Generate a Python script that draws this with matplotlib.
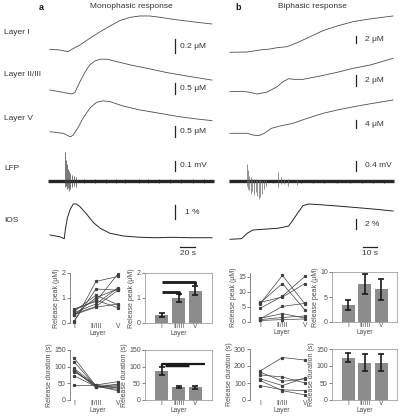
import matplotlib
matplotlib.use("Agg")
import matplotlib.pyplot as plt

plt.rcParams["font.family"] = ["Liberation Sans", "DejaVu Sans"]

# ---- traces (time in s, value in unit of the scale bar) ----
# monophasic (a)
a_I_t = [0, 13, 24, 29, 40, 53, 67, 80, 93, 107, 120, 133, 147, 164, 182, 200, 216]
a_I_v = [0.01, 0, -0.025, 0.01, 0.075, 0.175, 0.275, 0.36, 0.44, 0.49, 0.51, 0.51, 0.49, 0.46, 0.435, 0.41, 0.39]
a_II_t = [0, 13, 29, 33, 40, 47, 53, 60, 67, 76, 89, 107, 129, 156, 182, 216]
a_II_v = [0, -0.08, -0.18, -0.12, 0.38, 0.83, 1.14, 1.32, 1.4, 1.4, 1.29, 1.14, 0.99, 0.79, 0.64, 0.45]
a_V_t = [0, 18, 27, 31, 38, 44, 53, 62, 71, 80, 98, 120, 147, 173, 200, 216]
a_V_v = [0, -0.08, -0.24, -0.16, 0.23, 0.63, 1.10, 1.38, 1.45, 1.41, 1.20, 1.02, 0.86, 0.70, 0.58, 0.52]
a_ios_t = [0, 13, 19, 20.4, 23, 27, 31, 35, 40, 49, 58, 67, 80, 98, 120, 142, 164, 187, 216]
a_ios_v = [0, -0.12, -0.26, 0.35, 1.17, 1.8, 2.17, 2.17, 1.98, 1.45, 0.86, 0.47, 0.12, -0.07, -0.16, -0.19, -0.16, -0.19, -0.19]
a_spk_t = [20, 21.3, 22.7, 24, 25.3, 26.7, 29, 32, 35]
a_spk_up = [0.30, 0.22, 0.18, 0.12, 0.10, 0.08, 0.06, 0.05, 0.04]
a_spk_dn = [-0.06, -0.05, -0.08, -0.07, -0.10, -0.08, -0.06, -0.05, -0.06]
a_tick_t = [45, 60, 75, 88, 100, 118, 130, 145, 160, 175, 190, 205]

# biphasic (b)
b_I_t = [0, 12, 21, 28, 33, 40, 47, 56, 65, 75, 86, 98, 114]
b_I_v = [0, 0.08, 0.63, 0.9, 1.26, 1.53, 2.62, 4.25, 5.9, 7.17, 8.35, 9.1, 9.9]
b_II_t = [0, 9, 14, 19, 26, 33, 37, 41, 45, 51, 63, 75, 86, 98, 114]
b_II_v = [0, 0.08, -0.12, -0.45, -0.06, 0.97, 1.93, 2.51, 2.39, 2.39, 3.03, 3.75, 4.52, 5.16, 6.46]
b_V_t = [0, 12, 16, 20, 24, 29, 35, 44, 54, 65, 77, 89, 100, 114]
b_V_v = [0, 0, -0.82, -1.15, 0, 2.4, 3.5, 4.8, 7.2, 9.6, 11.5, 13.1, 14.4, 16.0]
b_ios_t = [0, 8, 12, 16, 23, 33, 37, 41, 44, 48, 51, 55, 63, 75, 86, 100, 114]
b_ios_v = [0, 0.12, 1.2, 1.86, 2.0, 2.2, 2.4, 2.66, 3.86, 5.52, 6.72, 7.06, 6.92, 6.66, 6.4, 6.06, 5.66]
b_spk_t = [11.7, 12.6, 13.5, 14.5, 15.5, 16.8, 18, 19.2, 20.3, 21.3, 22.4, 23.8, 25, 33.8, 35.5, 38, 40.6, 46.9]
b_spk_up = [0.70, 0.45, 0.2, 0.15, 0.1, 0.08, 0.1, 0.06, 0.05, 0.05, 0.05, 0.04, 0.03, 0.37, 0.15, 0.1, 0.08, 0.06]
b_spk_dn = [-0.2, -0.3, -0.35, -0.5, -0.4, -0.55, -0.45, -0.6, -0.72, -0.65, -0.5, -0.3, -0.2, -0.25, -0.12, -0.1, -0.2, -0.15]
b_tick_t = [30, 50, 58, 66, 75, 84, 92, 100, 108]

# ---- summary data ----
layers = ["I", "II/III", "V"]
peak_a_I = [0.02, 0.30, 0.55, 0.45, 0.35, 0.50, 0.40, 0.32, 0.05]
peak_a_II = [1.65, 1.00, 0.85, 1.10, 0.65, 0.90, 0.75, 0.62, 1.35]
peak_a_V = [1.85, 1.35, 1.95, 0.72, 1.30, 0.60, 1.40, 0.75, 1.30]
dur_a_I = [127, 115, 95, 91, 88, 85, 73, 44]
dur_a_II = [42, 40, 44, 38, 41, 45, 40, 43]
dur_a_V = [28, 32, 45, 48, 38, 55, 42, 36]
peak_b_I = [6.0, 6.3, 6.5, 4.5, 1.0, 1.2, 0.8, 0.5]
peak_b_II = [15.5, 12.8, 8.3, 8.6, 5.2, 2.8, 1.5, 0.8]
peak_b_V = [6.0, 4.0, 12.8, 15.2, 6.2, 1.3, 2.0, 1.0]
dur_b_I = [170, 165, 148, 125, 115, 85]
dur_b_II = [250, 110, 135, 85, 55, 60]
dur_b_V = [235, 125, 100, 130, 30, 55]

peak_a_mean = [0.30, 0.98, 1.28]
peak_a_err = [0.07, 0.15, 0.18]
dur_a_mean = [88, 40, 38]
dur_a_err = [12, 3, 5]
peak_b_mean = [3.5, 7.6, 6.6]
peak_b_err = [1.0, 2.0, 2.1]
dur_b_mean = [125, 110, 110]
dur_b_err = [14, 26, 25]

W, H = 399, 416
TXT = "0.2"
fig = plt.figure(figsize=(W / 100, H / 100), dpi=100)


def box(x0, y0, x1, y1):
    return [x0 / W, 1 - y1 / H, (x1 - x0) / W, (y1 - y0) / H]


def trace_ax(panel, ytop, ybot, base, ppu):
    if panel == "a":
        x0, x1, org, pps = 46, 216, 50, 0.75
    else:
        x0, x1, org, pps = 226, 397, 230, 1.43
    ax = fig.add_axes(box(x0, ytop, x1, ybot))
    ax.set_xlim((x0 - org) / pps, (x1 - org) / pps)
    ax.set_ylim((base - ybot) / ppu, (base - ytop) / ppu)
    ax.axis("off")
    ax.patch.set_alpha(0)
    ax._conv = (org, pps, base, ppu)
    return ax


def scale_bar(ax, xpx, ybot_px, size, label, tx_px):
    org, pps, base, ppu = ax._conv
    t = (xpx - org) / pps
    y0 = (base - ybot_px) / ppu
    ax.plot([t, t], [y0, y0 + size], color="0.15", lw=0.9, clip_on=False)
    ax.text((tx_px - org) / pps, y0 + size / 2, label, fontsize=6, color=TXT,
            va="center", ha="left")


def time_bar(ax, xpx, ypx, size, label):
    org, pps, base, ppu = ax._conv
    t = (xpx - org) / pps
    y = (base - ypx) / ppu
    ax.plot([t, t + size], [y, y], color="0.15", lw=0.9, clip_on=False)
    ax.text(t + size / 2, y - 3 / ppu, label, fontsize=6, color=TXT,
            ha="center", va="top")


tr_kw = dict(color="0.3", lw=0.6)

# ---- panel a traces ----
ax = trace_ax("a", 8, 58, 50, 66.7)
ax.plot(a_I_t, a_I_v, **tr_kw)
scale_bar(ax, 175, 52.7, 0.2, "0.2 μM", 180)
ax = trace_ax("a", 55, 100, 90, 22)
ax.plot(a_II_t, a_II_v, **tr_kw)
scale_bar(ax, 175, 94.3, 0.5, "0.5 μM", 180)
ax = trace_ax("a", 97, 142, 131.7, 21.3)
ax.plot(a_V_t, a_V_v, **tr_kw)
scale_bar(ax, 175, 136.7, 0.5, "0.5 μM", 180)
ax = trace_ax("a", 145, 205, 181, 97)
ax.plot([a_I_t[0] - 3, a_I_t[-1] + 2], [0, 0], color="0.15", lw=2.4, solid_capstyle="butt")
ax.vlines(a_spk_t, a_spk_dn, a_spk_up, color="0.25", lw=0.5)
ax.vlines(a_tick_t, -0.025, 0.025, color="0.15", lw=0.5)
scale_bar(ax, 175, 170.7, 0.1, "0.1 mV", 180)
ax = trace_ax("a", 198, 258, 235, 14.3)
ax.plot(a_ios_t, a_ios_v, color="0.15", lw=0.7)
scale_bar(ax, 175, 219.3, 1, "1 %", 185)
time_bar(ax, 180, 246.7, 20, "20 s")

# ---- panel b traces ----
ax = trace_ax("b", 8, 58, 52.3, 3.67)
ax.plot(b_I_t, b_I_v, **tr_kw)
scale_bar(ax, 356, 43.3, 2, "2 μM", 365)
ax = trace_ax("b", 55, 100, 91.7, 5.17)
ax.plot(b_II_t, b_II_v, **tr_kw)
scale_bar(ax, 356, 85.7, 2, "2 μM", 365)
ax = trace_ax("b", 97, 142, 133.3, 2.08)
ax.plot(b_V_t, b_V_v, **tr_kw)
scale_bar(ax, 356, 128.3, 4, "4 μM", 365)
ax = trace_ax("b", 145, 205, 181, 25)
ax.plot([b_I_t[0] - 0.5, b_I_t[-1] + 0.5], [0, 0], color="0.15", lw=2.4, solid_capstyle="butt")
ax.vlines(b_spk_t, b_spk_dn, b_spk_up, color="0.4", lw=0.5)
ax.vlines(b_tick_t, -0.06, 0.06, color="0.15", lw=0.5)
scale_bar(ax, 356, 170.7, 0.4, "0.4 mV", 365)
ax = trace_ax("b", 198, 258, 239.3, 5)
ax.plot(b_ios_t, b_ios_v, color="0.15", lw=0.7)
scale_bar(ax, 356, 229.3, 2, "2 %", 365)
time_bar(ax, 363, 246.7, 10, "10 s")

# ---- labels ----
for txt, y in [("Layer I", 33), ("Layer II/III", 75), ("Layer V", 118), ("LFP", 169), ("IOS", 220)]:
    fig.text(4 / W, 1 - y / H, txt, fontsize=6, color=TXT, va="center", ha="left")
fig.text(39 / W, 1 - 7 / H, "a", fontsize=6.5, fontweight="bold", color="0.1", va="center")
fig.text(131 / W, 1 - 6 / H, "Monophasic response", fontsize=6, color=TXT, va="center", ha="center")
fig.text(235 / W, 1 - 7 / H, "b", fontsize=6.5, fontweight="bold", color="0.1", va="center")
fig.text(312 / W, 1 - 6 / H, "Biphasic response", fontsize=6, color=TXT, va="center", ha="center")


# ---- summary panels ----
def style(ax, ylim, yticks, ylabel, frame):
    ax.set_ylim(*ylim)
    ax.set_yticks(yticks)
    ax.set_xticks([0, 1, 2])
    ax.set_xticklabels(layers)
    ax.tick_params(axis="y", length=2, width=0.5, pad=1, labelsize=5, colors="0.3")
    ax.tick_params(axis="x", length=0, pad=0.3, labelsize=4.8, colors="0.3")
    ax.set_xlabel("Layer", fontsize=4.8, color="0.3", labelpad=0)
    ax.set_ylabel(ylabel, fontsize=5, color="0.3", labelpad=1)
    for s in ax.spines.values():
        s.set_linewidth(0.5)
        s.set_color("0.55" if frame else "0.35")
    if not frame:
        for s in ["top", "right", "bottom"]:
            ax.spines[s].set_visible(False)


def line_panel(rect, I, II, V, xlim, ylim, yticks, ylabel):
    ax = fig.add_axes(rect)
    for a, b, c in zip(I, II, V):
        ax.plot([0, 1, 2], [a, b, c], "-s", color="0.25", lw=0.5, ms=1.3, clip_on=False)
    ax.set_xlim(*xlim)
    style(ax, ylim, yticks, ylabel, False)
    return ax


def bar_panel(rect, mean, err, xlim, ylim, yticks, ylabel):
    ax = fig.add_axes(rect)
    ax.bar([0, 1, 2], mean, 0.78, color="0.55", zorder=1)
    ax.errorbar([0, 1, 2], mean, yerr=err, fmt="none", ecolor="0.1",
                elinewidth=1.2, capsize=2, capthick=1.2, zorder=2)
    ax.set_xlim(*xlim)
    style(ax, ylim, yticks, ylabel, True)
    return ax


line_panel(box(70, 272.7, 125, 322.7), peak_a_I, peak_a_II, peak_a_V, (-0.18, 2.32),
           (0, 2), [0, 1, 2], "Release peak (μM)")
ax = bar_panel(box(145, 272.7, 212, 322.7), peak_a_mean, peak_a_err, (-1, 3),
               (0, 2), [0, 1, 2], "Release peak (μM)")
ax.plot([0, 2, 2], [1.62, 1.62, 1.5], color="0.1", lw=2, solid_capstyle="butt")
ax.plot([0, 1, 1], [1.22, 1.22, 1.12], color="0.1", lw=2, solid_capstyle="butt")

line_panel(box(70, 350, 125, 400), dur_a_I, dur_a_II, dur_a_V, (-0.18, 2.32),
           (0, 150), [0, 50, 100, 150], "Release duration (s)")
ax = bar_panel(box(145, 350, 212, 400), dur_a_mean, dur_a_err, (-1, 3),
               (0, 150), [0, 50, 100, 150], "Release duration (s)")
ax.plot([0, 0, 2.6], [100, 108, 108], color="0.1", lw=1.6, solid_capstyle="butt")
ax.plot([0.2, 1.6], [105, 105], color="0.1", lw=2.5, solid_capstyle="butt")

line_panel(box(250, 273, 314, 322), peak_b_I, peak_b_II, peak_b_V, (-0.44, 2.4),
           (0, 16.3), [0, 5, 10, 15], "Release peak (μM)")
bar_panel(box(332, 272, 397, 322), peak_b_mean, peak_b_err, (-1, 2.95),
          (0, 10), [0, 5, 10], "Release peak (μM)")

line_panel(box(250, 349, 314, 400), dur_b_I, dur_b_II, dur_b_V, (-0.44, 2.4),
           (0, 300), [0, 100, 200, 300], "Release duration (s)")
bar_panel(box(332, 349, 397, 400), dur_b_mean, dur_b_err, (-1, 2.95),
          (0, 150), [0, 50, 100, 150], "Release duration (s)")

fig.savefig("out.png", dpi=100)
